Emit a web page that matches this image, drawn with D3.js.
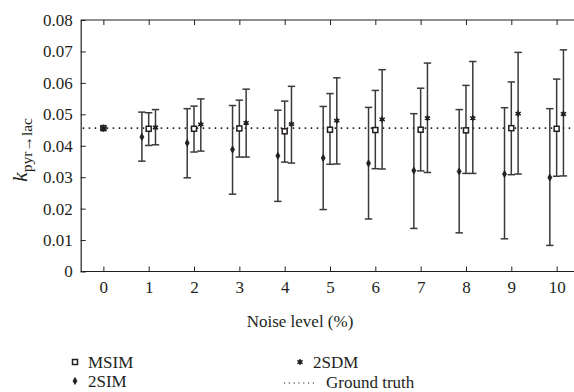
<!DOCTYPE html>
<html>
<head>
<meta charset="utf-8">
<script src="https://cdn.jsdelivr.net/npm/d3@7"></script>
<style>
  html, body { margin: 0; padding: 0; background: #fff; }
</style>
</head>
<body>
<svg id="chart" width="574" height="392"></svg>
<script>
// Noise levels (%)
const noiseLevels = [0, 1, 2, 3, 4, 5, 6, 7, 8, 9, 10];
const yTicks = [0, 0.01, 0.02, 0.03, 0.04, 0.05, 0.06, 0.07, 0.08];
const groundTruth = 0.0456;

// 2SIM estimates: mean, lower, upper
const sim2Mean  = [0.0456, 0.0428, 0.0409, 0.0388, 0.0368, 0.0361, 0.0344, 0.0321, 0.0318, 0.0310, 0.0299];
const sim2Low   = [0.0456, 0.0351, 0.0298, 0.0246, 0.0223, 0.0197, 0.0167, 0.0137, 0.0123, 0.0104, 0.0083];
const sim2High  = [0.0456, 0.0507, 0.0518, 0.0528, 0.0513, 0.0525, 0.0522, 0.0502, 0.0515, 0.0521, 0.0518];

// MSIM estimates
const msimMean  = [0.0456, 0.0454, 0.0454, 0.0455, 0.0446, 0.0451, 0.0450, 0.0451, 0.0449, 0.0456, 0.0454];
const msimLow   = [0.0456, 0.0401, 0.0380, 0.0364, 0.0348, 0.0341, 0.0327, 0.0320, 0.0312, 0.0308, 0.0303];
const msimHigh  = [0.0456, 0.0505, 0.0526, 0.0545, 0.0542, 0.0566, 0.0576, 0.0583, 0.0592, 0.0603, 0.0612];

// 2SDM estimates
const sdm2Mean  = [0.0456, 0.0458, 0.0468, 0.0473, 0.0469, 0.0480, 0.0484, 0.0488, 0.0488, 0.0502, 0.0501];
const sdm2Low   = [0.0456, 0.0403, 0.0383, 0.0364, 0.0345, 0.0342, 0.0326, 0.0315, 0.0312, 0.0310, 0.0304];
const sdm2High  = [0.0456, 0.0515, 0.0549, 0.0580, 0.0589, 0.0616, 0.0642, 0.0663, 0.0668, 0.0697, 0.0705];

const series = [
  { name: "2SIM", offset: -0.15, mean: sim2Mean, low: sim2Low, high: sim2High, shape: "diamond" },
  { name: "MSIM", offset: 0,     mean: msimMean, low: msimLow, high: msimHigh, shape: "square" },
  { name: "2SDM", offset: 0.15,  mean: sdm2Mean, low: sdm2Low, high: sdm2High, shape: "star" }
];

const FONT = "Liberation Serif";
const svg = d3.select("#chart");
const ink = "#231f20";
const barColor = "#3a3a3a";

const x = d3.scaleLinear().domain([-0.5, 10.5]).range([80.7, 579.3]);
const y = d3.scaleLinear().domain([0, 0.08]).range([271.5, 20]);

function styleText(sel, size) {
  sel.style("font-family", FONT).style("font-size", size + "px").attr("fill", ink);
}

// Bottom axis
const xAxis = d3.axisBottom(x).tickValues(noiseLevels).tickFormat(d3.format("d"))
  .tickSizeInner(-5).tickSizeOuter(0).tickPadding(9);
const gx = svg.append("g").attr("transform", `translate(0,${y(0)})`).call(xAxis);
gx.select(".domain").attr("stroke", ink).attr("stroke-width", 1.2).attr("d", `M${x(-0.5)},0H574`);
gx.selectAll(".tick line").attr("stroke", ink);
styleText(gx.selectAll(".tick text"), 17);

// Top frame line with ticks
const xTop = d3.axisTop(x).tickValues(noiseLevels).tickFormat("").tickSizeInner(-5).tickSizeOuter(0);
const gt = svg.append("g").attr("transform", `translate(0,${y(0.08)})`).call(xTop);
gt.select(".domain").attr("stroke", ink).attr("stroke-width", 1.2).attr("d", `M${x(-0.5)},0H574`);
gt.selectAll(".tick line").attr("stroke", ink);

// Left axis
const yAxis = d3.axisLeft(y).tickValues(yTicks)
  .tickFormat(d => d === 0 ? "0" : d3.format(".2f")(d))
  .tickSizeInner(-5).tickSizeOuter(0).tickPadding(8);
const gy = svg.append("g").attr("transform", `translate(${x(-0.5)},0)`).call(yAxis);
gy.select(".domain").attr("stroke", ink).attr("stroke-width", 1.2);
gy.selectAll(".tick line").attr("stroke", ink);
styleText(gy.selectAll(".tick text"), 17);

// Ground truth reference line
svg.append("line")
  .attr("x1", x(-0.5) + 2).attr("x2", 574)
  .attr("y1", y(groundTruth)).attr("y2", y(groundTruth))
  .attr("stroke", ink).attr("stroke-width", 1.6)
  .attr("stroke-dasharray", "1.5,4.5");

// Marker shapes
function drawMarker(g, shape, cx, cy) {
  if (shape === "square") {
    g.append("rect").attr("x", cx - 2.5).attr("y", cy - 2.5).attr("width", 5).attr("height", 5)
      .attr("fill", "#fff").attr("stroke", ink).attr("stroke-width", 1.5);
  } else if (shape === "diamond") {
    g.append("path").attr("d", d3.symbol(d3.symbolDiamond, 14)())
      .attr("transform", `translate(${cx},${cy})`).attr("fill", ink).attr("stroke", ink).attr("stroke-width", 0.8);
  } else {
    g.append("path").attr("d", d3.symbol(d3.symbolAsterisk, 26)())
      .attr("transform", `translate(${cx},${cy})`).attr("fill", "none").attr("stroke", ink).attr("stroke-width", 1.4);
    g.append("circle").attr("cx", cx).attr("cy", cy).attr("r", 1.9).attr("fill", ink);
  }
}

// Error bars and markers
const capHalf = 3.7;
series.forEach(s => {
  const g = svg.append("g").attr("class", "series-" + s.name);
  noiseLevels.forEach((n, i) => {
    const cx = n === 0 ? x(0) : x(n + s.offset);
    if (s.high[i] > s.low[i]) {
      g.append("line").attr("x1", cx).attr("x2", cx).attr("y1", y(s.low[i])).attr("y2", y(s.high[i]))
        .attr("stroke", barColor).attr("stroke-width", 1.5);
      [s.low[i], s.high[i]].forEach(v => {
        g.append("line").attr("x1", cx - capHalf).attr("x2", cx + capHalf).attr("y1", y(v)).attr("y2", y(v))
          .attr("stroke", barColor).attr("stroke-width", 1.5);
      });
    }
  });
});
series.forEach(s => {
  const g = svg.append("g");
  noiseLevels.forEach((n, i) => {
    const cx = n === 0 ? x(0) : x(n + s.offset);
    drawMarker(g, s.shape, cx, y(s.mean[i]));
  });
});

// Axis titles
styleText(svg.append("text").attr("x", 300).attr("y", 327).attr("text-anchor", "middle")
  .text("Noise level (%)"), 17);

const yl = svg.append("text").attr("transform", "translate(27,150) rotate(-90)")
  .attr("text-anchor", "middle");
styleText(yl, 22);
yl.append("tspan").style("font-style", "italic").text("k");
yl.append("tspan").style("font-size", "15.5px").attr("dy", 5).text("pyr\u2192lac");

// Legend
const legend = [
  { label: "MSIM", shape: "square", mx: 75, my: 362 },
  { label: "2SIM", shape: "diamond", mx: 75, my: 381 },
  { label: "2SDM", shape: "star", mx: 300, my: 362 }
];
legend.forEach(l => {
  drawMarker(svg, l.shape, l.mx, l.my);
  styleText(svg.append("text").attr("x", l.mx + 13).attr("y", l.my + 6).text(l.label), 17);
});
svg.append("line").attr("x1", 284).attr("x2", 316).attr("y1", 383).attr("y2", 383)
  .attr("stroke", ink).attr("stroke-width", 1.2).attr("stroke-dasharray", "1.2,3.6");
styleText(svg.append("text").attr("x", 326).attr("y", 388).text("Ground truth"), 17);
</script>
</body>
</html>
